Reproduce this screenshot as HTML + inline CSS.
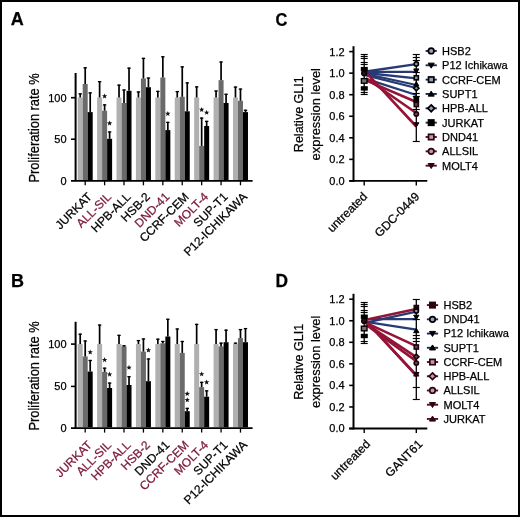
<!DOCTYPE html><html><head><meta charset="utf-8"><style>html,body{margin:0;padding:0;background:#fff;}svg{display:block;will-change:transform;transform:translateZ(0);}text{font-family:"Liberation Sans", sans-serif;stroke:#000;stroke-width:0.25px;}</style></head><body>
<svg width="520" height="517" viewBox="0 0 520 517">
<rect x="0" y="0" width="520" height="517" fill="#fff"/>
<text transform="translate(10.8 25.4) scale(1 1)" font-size="18" font-weight="bold">A</text>
<text transform="translate(10.9 287.4) scale(1 1)" font-size="18" font-weight="bold">B</text>
<text transform="translate(275.4 25.8) scale(0.91 1)" font-size="18" font-weight="bold">C</text>
<text transform="translate(275.4 287.4) scale(0.96 1)" font-size="18" font-weight="bold">D</text>
<rect x="77.7" y="97.5" width="5" height="82.5" fill="#b0b0b0"/>
<line x1="80.2" y1="93.3" x2="80.2" y2="97.5" stroke="#000" stroke-width="1.7"/>
<line x1="78.5" y1="93.9" x2="81.9" y2="93.9" stroke="#000" stroke-width="1.3"/>
<rect x="82.7" y="84" width="5" height="96" fill="#6a6a6a"/>
<line x1="85.2" y1="67.2" x2="85.2" y2="84" stroke="#000" stroke-width="1.7"/>
<line x1="83.5" y1="67.8" x2="86.9" y2="67.8" stroke="#000" stroke-width="1.3"/>
<rect x="87.7" y="112.1" width="5" height="67.9" fill="#000"/>
<line x1="90.2" y1="92.3" x2="90.2" y2="112.1" stroke="#000" stroke-width="1.7"/>
<line x1="88.5" y1="92.9" x2="91.9" y2="92.9" stroke="#000" stroke-width="1.3"/>
<rect x="97.11" y="97.5" width="5" height="82.5" fill="#b0b0b0"/>
<line x1="99.61" y1="81.1" x2="99.61" y2="97.5" stroke="#000" stroke-width="1.7"/>
<line x1="97.91" y1="81.7" x2="101.31" y2="81.7" stroke="#000" stroke-width="1.3"/>
<rect x="102.11" y="110.7" width="5" height="69.3" fill="#6a6a6a"/>
<line x1="104.61" y1="104.3" x2="104.61" y2="110.7" stroke="#000" stroke-width="1.7"/>
<line x1="102.91" y1="104.9" x2="106.31" y2="104.9" stroke="#000" stroke-width="1.3"/>
<rect x="107.11" y="138.8" width="5" height="41.2" fill="#000"/>
<line x1="109.61" y1="131.4" x2="109.61" y2="138.8" stroke="#000" stroke-width="1.7"/>
<line x1="107.91" y1="132" x2="111.31" y2="132" stroke="#000" stroke-width="1.3"/>
<rect x="116.52" y="97.5" width="5" height="82.5" fill="#b0b0b0"/>
<line x1="119.02" y1="84.6" x2="119.02" y2="97.5" stroke="#000" stroke-width="1.7"/>
<line x1="117.32" y1="85.2" x2="120.72" y2="85.2" stroke="#000" stroke-width="1.3"/>
<rect x="121.52" y="103" width="5" height="77" fill="#6a6a6a"/>
<line x1="124.02" y1="89.4" x2="124.02" y2="103" stroke="#000" stroke-width="1.7"/>
<line x1="122.32" y1="90" x2="125.72" y2="90" stroke="#000" stroke-width="1.3"/>
<rect x="126.52" y="90.8" width="5" height="89.2" fill="#000"/>
<line x1="129.02" y1="67.6" x2="129.02" y2="90.8" stroke="#000" stroke-width="1.7"/>
<line x1="127.32" y1="68.2" x2="130.72" y2="68.2" stroke="#000" stroke-width="1.3"/>
<rect x="135.93" y="97.5" width="5" height="82.5" fill="#b0b0b0"/>
<line x1="138.43" y1="91.4" x2="138.43" y2="97.5" stroke="#000" stroke-width="1.7"/>
<line x1="136.73" y1="92" x2="140.13" y2="92" stroke="#000" stroke-width="1.3"/>
<rect x="140.93" y="78.5" width="5" height="101.5" fill="#6a6a6a"/>
<line x1="143.43" y1="57.8" x2="143.43" y2="78.5" stroke="#000" stroke-width="1.7"/>
<line x1="141.73" y1="58.4" x2="145.13" y2="58.4" stroke="#000" stroke-width="1.3"/>
<rect x="145.93" y="87.2" width="5" height="92.8" fill="#000"/>
<line x1="148.43" y1="77.5" x2="148.43" y2="87.2" stroke="#000" stroke-width="1.7"/>
<line x1="146.73" y1="78.1" x2="150.13" y2="78.1" stroke="#000" stroke-width="1.3"/>
<rect x="155.34" y="97.5" width="5" height="82.5" fill="#b0b0b0"/>
<line x1="157.84" y1="90.8" x2="157.84" y2="97.5" stroke="#000" stroke-width="1.7"/>
<line x1="156.14" y1="91.4" x2="159.54" y2="91.4" stroke="#000" stroke-width="1.3"/>
<rect x="160.34" y="77.5" width="5" height="102.5" fill="#6a6a6a"/>
<line x1="162.84" y1="56.2" x2="162.84" y2="77.5" stroke="#000" stroke-width="1.7"/>
<line x1="161.14" y1="56.8" x2="164.54" y2="56.8" stroke="#000" stroke-width="1.3"/>
<rect x="165.34" y="130.1" width="5" height="49.9" fill="#000"/>
<line x1="167.84" y1="121.8" x2="167.84" y2="130.1" stroke="#000" stroke-width="1.7"/>
<line x1="166.14" y1="122.4" x2="169.54" y2="122.4" stroke="#000" stroke-width="1.3"/>
<rect x="174.75" y="97.5" width="5" height="82.5" fill="#b0b0b0"/>
<line x1="177.25" y1="91" x2="177.25" y2="97.5" stroke="#000" stroke-width="1.7"/>
<line x1="175.55" y1="91.6" x2="178.95" y2="91.6" stroke="#000" stroke-width="1.3"/>
<rect x="179.75" y="96.8" width="5" height="83.2" fill="#6a6a6a"/>
<line x1="182.25" y1="66.3" x2="182.25" y2="96.8" stroke="#000" stroke-width="1.7"/>
<line x1="180.55" y1="66.9" x2="183.95" y2="66.9" stroke="#000" stroke-width="1.3"/>
<rect x="184.75" y="111.3" width="5" height="68.7" fill="#000"/>
<line x1="187.25" y1="82.3" x2="187.25" y2="111.3" stroke="#000" stroke-width="1.7"/>
<line x1="185.55" y1="82.9" x2="188.95" y2="82.9" stroke="#000" stroke-width="1.3"/>
<rect x="194.16" y="97.5" width="5" height="82.5" fill="#b0b0b0"/>
<line x1="196.66" y1="86.3" x2="196.66" y2="97.5" stroke="#000" stroke-width="1.7"/>
<line x1="194.96" y1="86.9" x2="198.36" y2="86.9" stroke="#000" stroke-width="1.3"/>
<rect x="199.16" y="145.9" width="5" height="34.1" fill="#6a6a6a"/>
<line x1="201.66" y1="117.5" x2="201.66" y2="145.9" stroke="#000" stroke-width="1.7"/>
<line x1="199.96" y1="118.1" x2="203.36" y2="118.1" stroke="#000" stroke-width="1.3"/>
<rect x="204.16" y="126" width="5" height="54" fill="#000"/>
<line x1="206.66" y1="120.8" x2="206.66" y2="126" stroke="#000" stroke-width="1.7"/>
<line x1="204.96" y1="121.4" x2="208.36" y2="121.4" stroke="#000" stroke-width="1.3"/>
<rect x="213.57" y="97.5" width="5" height="82.5" fill="#b0b0b0"/>
<line x1="216.07" y1="90.4" x2="216.07" y2="97.5" stroke="#000" stroke-width="1.7"/>
<line x1="214.37" y1="91" x2="217.77" y2="91" stroke="#000" stroke-width="1.3"/>
<rect x="218.57" y="80.1" width="5" height="99.9" fill="#6a6a6a"/>
<line x1="221.07" y1="61.4" x2="221.07" y2="80.1" stroke="#000" stroke-width="1.7"/>
<line x1="219.37" y1="62" x2="222.77" y2="62" stroke="#000" stroke-width="1.3"/>
<rect x="223.57" y="103" width="5" height="77" fill="#000"/>
<line x1="226.07" y1="93.7" x2="226.07" y2="103" stroke="#000" stroke-width="1.7"/>
<line x1="224.37" y1="94.3" x2="227.77" y2="94.3" stroke="#000" stroke-width="1.3"/>
<rect x="232.98" y="97.5" width="5" height="82.5" fill="#b0b0b0"/>
<line x1="235.48" y1="86.5" x2="235.48" y2="97.5" stroke="#000" stroke-width="1.7"/>
<line x1="233.78" y1="87.1" x2="237.18" y2="87.1" stroke="#000" stroke-width="1.3"/>
<rect x="237.98" y="100.8" width="5" height="79.2" fill="#6a6a6a"/>
<line x1="240.48" y1="88.5" x2="240.48" y2="100.8" stroke="#000" stroke-width="1.7"/>
<line x1="238.78" y1="89.1" x2="242.18" y2="89.1" stroke="#000" stroke-width="1.3"/>
<rect x="242.98" y="112.1" width="5" height="67.9" fill="#000"/>
<line x1="245.48" y1="109.7" x2="245.48" y2="112.1" stroke="#000" stroke-width="1.7"/>
<line x1="243.78" y1="110.3" x2="247.18" y2="110.3" stroke="#000" stroke-width="1.3"/>
<polygon points="104.61,93.4 105.32,95.23 107.27,95.33 105.75,96.57 106.26,98.47 104.61,97.4 102.96,98.47 103.47,96.57 101.95,95.33 103.9,95.23" fill="#111"/>
<polygon points="109.61,120.5 110.32,122.33 112.27,122.43 110.75,123.67 111.26,125.57 109.61,124.5 107.96,125.57 108.47,123.67 106.95,122.43 108.9,122.33" fill="#111"/>
<polygon points="167.84,110.9 168.55,112.73 170.5,112.83 168.98,114.07 169.49,115.97 167.84,114.9 166.19,115.97 166.7,114.07 165.18,112.83 167.13,112.73" fill="#111"/>
<polygon points="201.66,106.9 202.37,108.73 204.32,108.83 202.8,110.07 203.31,111.97 201.66,110.9 200.01,111.97 200.52,110.07 199,108.83 200.95,108.73" fill="#111"/>
<polygon points="206.66,109.8 207.37,111.63 209.32,111.73 207.8,112.97 208.31,114.87 206.66,113.8 205.01,114.87 205.52,112.97 204,111.73 205.95,111.63" fill="#111"/>
<line x1="75.6" y1="73" x2="75.6" y2="180.8" stroke="#000" stroke-width="2.0"/>
<line x1="71" y1="180.8" x2="252.6" y2="180.8" stroke="#000" stroke-width="1.8"/>
<line x1="71" y1="97.7" x2="75.5" y2="97.7" stroke="#000" stroke-width="1.6"/>
<line x1="71" y1="139.2" x2="75.5" y2="139.2" stroke="#000" stroke-width="1.6"/>
<line x1="85.2" y1="181" x2="85.2" y2="185.3" stroke="#000" stroke-width="1.3"/>
<line x1="104.61" y1="181" x2="104.61" y2="185.3" stroke="#000" stroke-width="1.3"/>
<line x1="124.02" y1="181" x2="124.02" y2="185.3" stroke="#000" stroke-width="1.3"/>
<line x1="143.43" y1="181" x2="143.43" y2="185.3" stroke="#000" stroke-width="1.3"/>
<line x1="162.84" y1="181" x2="162.84" y2="185.3" stroke="#000" stroke-width="1.3"/>
<line x1="182.25" y1="181" x2="182.25" y2="185.3" stroke="#000" stroke-width="1.3"/>
<line x1="201.66" y1="181" x2="201.66" y2="185.3" stroke="#000" stroke-width="1.3"/>
<line x1="221.07" y1="181" x2="221.07" y2="185.3" stroke="#000" stroke-width="1.3"/>
<line x1="240.48" y1="181" x2="240.48" y2="185.3" stroke="#000" stroke-width="1.3"/>
<text x="66.6" y="101.6" font-size="11" text-anchor="end">100</text>
<text x="66.6" y="143.1" font-size="11" text-anchor="end">50</text>
<text x="66.6" y="184.7" font-size="11" text-anchor="end">0</text>
<text transform="translate(92.6 197.6) rotate(-45)" font-size="12" text-anchor="end" style="fill:#000;stroke:#000">JURKAT</text>
<text transform="translate(112.01 197.6) rotate(-45)" font-size="12" text-anchor="end" style="fill:#7a1836;stroke:#7a1836">ALL-SIL</text>
<text transform="translate(131.42 197.6) rotate(-45)" font-size="12" text-anchor="end" style="fill:#000;stroke:#000">HPB-ALL</text>
<text transform="translate(150.83 197.6) rotate(-45)" font-size="12" text-anchor="end" style="fill:#000;stroke:#000">HSB-2</text>
<text transform="translate(170.24 197.6) rotate(-45)" font-size="12" text-anchor="end" style="fill:#7a1836;stroke:#7a1836">DND-41</text>
<text transform="translate(189.65 197.6) rotate(-45)" font-size="12" text-anchor="end" style="fill:#000;stroke:#000">CCRF-CEM</text>
<text transform="translate(209.06 197.6) rotate(-45)" font-size="12" text-anchor="end" style="fill:#7a1836;stroke:#7a1836">MOLT-4</text>
<text transform="translate(228.47 197.6) rotate(-45)" font-size="12" text-anchor="end" style="fill:#000;stroke:#000">SUP-T1</text>
<text transform="translate(247.88 197.6) rotate(-45)" font-size="12" text-anchor="end" style="fill:#000;stroke:#000">P12-ICHIKAWA</text>
<text transform="translate(39.2 127.9) rotate(-90) scale(0.918 1)" font-size="14" text-anchor="middle">Proliferation rate %</text>
<rect x="77.7" y="344" width="5" height="83.3" fill="#b0b0b0"/>
<line x1="80.2" y1="333.6" x2="80.2" y2="344" stroke="#000" stroke-width="1.7"/>
<line x1="78.5" y1="334.2" x2="81.9" y2="334.2" stroke="#000" stroke-width="1.3"/>
<rect x="82.7" y="356.4" width="5" height="70.9" fill="#6a6a6a"/>
<line x1="85.2" y1="340.4" x2="85.2" y2="356.4" stroke="#000" stroke-width="1.7"/>
<line x1="83.5" y1="341" x2="86.9" y2="341" stroke="#000" stroke-width="1.3"/>
<rect x="87.7" y="371.5" width="5" height="55.8" fill="#000"/>
<line x1="90.2" y1="359.9" x2="90.2" y2="371.5" stroke="#000" stroke-width="1.7"/>
<line x1="88.5" y1="360.5" x2="91.9" y2="360.5" stroke="#000" stroke-width="1.3"/>
<rect x="97.11" y="344" width="5" height="83.3" fill="#b0b0b0"/>
<line x1="99.61" y1="324.5" x2="99.61" y2="344" stroke="#000" stroke-width="1.7"/>
<line x1="97.91" y1="325.1" x2="101.31" y2="325.1" stroke="#000" stroke-width="1.3"/>
<rect x="102.11" y="371.9" width="5" height="55.4" fill="#6a6a6a"/>
<line x1="104.61" y1="367.6" x2="104.61" y2="371.9" stroke="#000" stroke-width="1.7"/>
<line x1="102.91" y1="368.2" x2="106.31" y2="368.2" stroke="#000" stroke-width="1.3"/>
<rect x="107.11" y="388" width="5" height="39.3" fill="#000"/>
<line x1="109.61" y1="382.5" x2="109.61" y2="388" stroke="#000" stroke-width="1.7"/>
<line x1="107.91" y1="383.1" x2="111.31" y2="383.1" stroke="#000" stroke-width="1.3"/>
<rect x="116.52" y="344" width="5" height="83.3" fill="#b0b0b0"/>
<line x1="119.02" y1="334.8" x2="119.02" y2="344" stroke="#000" stroke-width="1.7"/>
<line x1="117.32" y1="335.4" x2="120.72" y2="335.4" stroke="#000" stroke-width="1.3"/>
<rect x="121.52" y="346.4" width="5" height="80.9" fill="#6a6a6a"/>
<line x1="124.02" y1="345.2" x2="124.02" y2="346.4" stroke="#000" stroke-width="1.7"/>
<line x1="122.32" y1="345.8" x2="125.72" y2="345.8" stroke="#000" stroke-width="1.3"/>
<rect x="126.52" y="385" width="5" height="42.3" fill="#000"/>
<line x1="129.02" y1="376.1" x2="129.02" y2="385" stroke="#000" stroke-width="1.7"/>
<line x1="127.32" y1="376.7" x2="130.72" y2="376.7" stroke="#000" stroke-width="1.3"/>
<rect x="135.93" y="344" width="5" height="83.3" fill="#b0b0b0"/>
<line x1="138.43" y1="340" x2="138.43" y2="344" stroke="#000" stroke-width="1.7"/>
<line x1="136.73" y1="340.6" x2="140.13" y2="340.6" stroke="#000" stroke-width="1.3"/>
<rect x="140.93" y="351.6" width="5" height="75.7" fill="#6a6a6a"/>
<line x1="143.43" y1="338.4" x2="143.43" y2="351.6" stroke="#000" stroke-width="1.7"/>
<line x1="141.73" y1="339" x2="145.13" y2="339" stroke="#000" stroke-width="1.3"/>
<rect x="145.93" y="381.2" width="5" height="46.1" fill="#000"/>
<line x1="148.43" y1="358.4" x2="148.43" y2="381.2" stroke="#000" stroke-width="1.7"/>
<line x1="146.73" y1="359" x2="150.13" y2="359" stroke="#000" stroke-width="1.3"/>
<rect x="155.34" y="344" width="5" height="83.3" fill="#b0b0b0"/>
<line x1="157.84" y1="338.6" x2="157.84" y2="344" stroke="#000" stroke-width="1.7"/>
<line x1="156.14" y1="339.2" x2="159.54" y2="339.2" stroke="#000" stroke-width="1.3"/>
<rect x="160.34" y="343.3" width="5" height="84" fill="#6a6a6a"/>
<line x1="162.84" y1="340.9" x2="162.84" y2="343.3" stroke="#000" stroke-width="1.7"/>
<line x1="161.14" y1="341.5" x2="164.54" y2="341.5" stroke="#000" stroke-width="1.3"/>
<rect x="165.34" y="336.5" width="5" height="90.8" fill="#000"/>
<line x1="167.84" y1="318.7" x2="167.84" y2="336.5" stroke="#000" stroke-width="1.7"/>
<line x1="166.14" y1="319.3" x2="169.54" y2="319.3" stroke="#000" stroke-width="1.3"/>
<rect x="174.75" y="344" width="5" height="83.3" fill="#b0b0b0"/>
<line x1="177.25" y1="328.4" x2="177.25" y2="344" stroke="#000" stroke-width="1.7"/>
<line x1="175.55" y1="329" x2="178.95" y2="329" stroke="#000" stroke-width="1.3"/>
<rect x="179.75" y="352.9" width="5" height="74.4" fill="#6a6a6a"/>
<line x1="182.25" y1="340.9" x2="182.25" y2="352.9" stroke="#000" stroke-width="1.7"/>
<line x1="180.55" y1="341.5" x2="183.95" y2="341.5" stroke="#000" stroke-width="1.3"/>
<rect x="184.75" y="411.2" width="5" height="16.1" fill="#000"/>
<line x1="187.25" y1="407.8" x2="187.25" y2="411.2" stroke="#000" stroke-width="1.7"/>
<line x1="185.55" y1="408.4" x2="188.95" y2="408.4" stroke="#000" stroke-width="1.3"/>
<rect x="194.16" y="344" width="5" height="83.3" fill="#b0b0b0"/>
<line x1="196.66" y1="323.8" x2="196.66" y2="344" stroke="#000" stroke-width="1.7"/>
<line x1="194.96" y1="324.4" x2="198.36" y2="324.4" stroke="#000" stroke-width="1.3"/>
<rect x="199.16" y="387.1" width="5" height="40.2" fill="#6a6a6a"/>
<line x1="201.66" y1="381.8" x2="201.66" y2="387.1" stroke="#000" stroke-width="1.7"/>
<line x1="199.96" y1="382.4" x2="203.36" y2="382.4" stroke="#000" stroke-width="1.3"/>
<rect x="204.16" y="396.7" width="5" height="30.6" fill="#000"/>
<line x1="206.66" y1="390.3" x2="206.66" y2="396.7" stroke="#000" stroke-width="1.7"/>
<line x1="204.96" y1="390.9" x2="208.36" y2="390.9" stroke="#000" stroke-width="1.3"/>
<rect x="213.57" y="344" width="5" height="83.3" fill="#b0b0b0"/>
<line x1="216.07" y1="329" x2="216.07" y2="344" stroke="#000" stroke-width="1.7"/>
<line x1="214.37" y1="329.6" x2="217.77" y2="329.6" stroke="#000" stroke-width="1.3"/>
<rect x="218.57" y="346.4" width="5" height="80.9" fill="#6a6a6a"/>
<line x1="221.07" y1="342.6" x2="221.07" y2="346.4" stroke="#000" stroke-width="1.7"/>
<line x1="219.37" y1="343.2" x2="222.77" y2="343.2" stroke="#000" stroke-width="1.3"/>
<rect x="223.57" y="342.2" width="5" height="85.1" fill="#000"/>
<line x1="226.07" y1="329.6" x2="226.07" y2="342.2" stroke="#000" stroke-width="1.7"/>
<line x1="224.37" y1="330.2" x2="227.77" y2="330.2" stroke="#000" stroke-width="1.3"/>
<rect x="232.98" y="344" width="5" height="83.3" fill="#b0b0b0"/>
<line x1="235.48" y1="342.6" x2="235.48" y2="344" stroke="#000" stroke-width="1.7"/>
<line x1="233.78" y1="343.2" x2="237.18" y2="343.2" stroke="#000" stroke-width="1.3"/>
<rect x="237.98" y="338.1" width="5" height="89.2" fill="#6a6a6a"/>
<line x1="240.48" y1="329" x2="240.48" y2="338.1" stroke="#000" stroke-width="1.7"/>
<line x1="238.78" y1="329.6" x2="242.18" y2="329.6" stroke="#000" stroke-width="1.3"/>
<rect x="242.98" y="342.2" width="5" height="85.1" fill="#000"/>
<line x1="245.48" y1="328" x2="245.48" y2="342.2" stroke="#000" stroke-width="1.7"/>
<line x1="243.78" y1="328.6" x2="247.18" y2="328.6" stroke="#000" stroke-width="1.3"/>
<polygon points="90.2,349.4 90.91,351.23 92.86,351.33 91.34,352.57 91.85,354.47 90.2,353.4 88.55,354.47 89.06,352.57 87.54,351.33 89.49,351.23" fill="#111"/>
<polygon points="104.61,357.1 105.32,358.93 107.27,359.03 105.75,360.27 106.26,362.17 104.61,361.1 102.96,362.17 103.47,360.27 101.95,359.03 103.9,358.93" fill="#111"/>
<polygon points="109.61,371.6 110.32,373.43 112.27,373.53 110.75,374.77 111.26,376.67 109.61,375.6 107.96,376.67 108.47,374.77 106.95,373.53 108.9,373.43" fill="#111"/>
<polygon points="129.02,364.8 129.73,366.63 131.68,366.73 130.16,367.97 130.67,369.87 129.02,368.8 127.37,369.87 127.88,367.97 126.36,366.73 128.31,366.63" fill="#111"/>
<polygon points="148.43,347.4 149.14,349.23 151.09,349.33 149.57,350.57 150.08,352.47 148.43,351.4 146.78,352.47 147.29,350.57 145.77,349.33 147.72,349.23" fill="#111"/>
<polygon points="187.25,391 187.96,392.83 189.91,392.93 188.39,394.17 188.9,396.07 187.25,395 185.6,396.07 186.11,394.17 184.59,392.93 186.54,392.83" fill="#111"/>
<polygon points="187.25,397.2 187.96,399.03 189.91,399.13 188.39,400.37 188.9,402.27 187.25,401.2 185.6,402.27 186.11,400.37 184.59,399.13 186.54,399.03" fill="#111"/>
<polygon points="201.66,371.3 202.37,373.13 204.32,373.23 202.8,374.47 203.31,376.37 201.66,375.3 200.01,376.37 200.52,374.47 199,373.23 200.95,373.13" fill="#111"/>
<polygon points="206.66,379.4 207.37,381.23 209.32,381.33 207.8,382.57 208.31,384.47 206.66,383.4 205.01,384.47 205.52,382.57 204,381.33 205.95,381.23" fill="#111"/>
<line x1="75.6" y1="321.8" x2="75.6" y2="428.1" stroke="#000" stroke-width="2.0"/>
<line x1="71" y1="428.1" x2="252.6" y2="428.1" stroke="#000" stroke-width="1.8"/>
<line x1="71" y1="344.1" x2="75.5" y2="344.1" stroke="#000" stroke-width="1.6"/>
<line x1="71" y1="386.4" x2="75.5" y2="386.4" stroke="#000" stroke-width="1.6"/>
<line x1="85.2" y1="428.3" x2="85.2" y2="432.6" stroke="#000" stroke-width="1.3"/>
<line x1="104.61" y1="428.3" x2="104.61" y2="432.6" stroke="#000" stroke-width="1.3"/>
<line x1="124.02" y1="428.3" x2="124.02" y2="432.6" stroke="#000" stroke-width="1.3"/>
<line x1="143.43" y1="428.3" x2="143.43" y2="432.6" stroke="#000" stroke-width="1.3"/>
<line x1="162.84" y1="428.3" x2="162.84" y2="432.6" stroke="#000" stroke-width="1.3"/>
<line x1="182.25" y1="428.3" x2="182.25" y2="432.6" stroke="#000" stroke-width="1.3"/>
<line x1="201.66" y1="428.3" x2="201.66" y2="432.6" stroke="#000" stroke-width="1.3"/>
<line x1="221.07" y1="428.3" x2="221.07" y2="432.6" stroke="#000" stroke-width="1.3"/>
<line x1="240.48" y1="428.3" x2="240.48" y2="432.6" stroke="#000" stroke-width="1.3"/>
<text x="66.6" y="348" font-size="11" text-anchor="end">100</text>
<text x="66.6" y="390.3" font-size="11" text-anchor="end">50</text>
<text x="66.6" y="432" font-size="11" text-anchor="end">0</text>
<text transform="translate(92.6 445.7) rotate(-45)" font-size="12" text-anchor="end" style="fill:#7a1836;stroke:#7a1836">JURKAT</text>
<text transform="translate(112.01 445.7) rotate(-45)" font-size="12" text-anchor="end" style="fill:#7a1836;stroke:#7a1836">ALL-SIL</text>
<text transform="translate(131.42 445.7) rotate(-45)" font-size="12" text-anchor="end" style="fill:#7a1836;stroke:#7a1836">HPB-ALL</text>
<text transform="translate(150.83 445.7) rotate(-45)" font-size="12" text-anchor="end" style="fill:#7a1836;stroke:#7a1836">HSB-2</text>
<text transform="translate(170.24 445.7) rotate(-45)" font-size="12" text-anchor="end" style="fill:#000;stroke:#000">DND-41</text>
<text transform="translate(189.65 445.7) rotate(-45)" font-size="12" text-anchor="end" style="fill:#7a1836;stroke:#7a1836">CCRF-CEM</text>
<text transform="translate(209.06 445.7) rotate(-45)" font-size="12" text-anchor="end" style="fill:#7a1836;stroke:#7a1836">MOLT-4</text>
<text transform="translate(228.47 445.7) rotate(-45)" font-size="12" text-anchor="end" style="fill:#000;stroke:#000">SUP-T1</text>
<text transform="translate(247.88 445.7) rotate(-45)" font-size="12" text-anchor="end" style="fill:#000;stroke:#000">P12-ICHIKAWA</text>
<text transform="translate(39.2 375.95) rotate(-90) scale(0.918 1)" font-size="14" text-anchor="middle">Proliferation rate %</text>
<line x1="353.5" y1="46.2" x2="353.5" y2="181.8" stroke="#000" stroke-width="2.0"/>
<line x1="349.2" y1="180.9" x2="427.3" y2="180.9" stroke="#000" stroke-width="1.8"/>
<line x1="349.2" y1="180.9" x2="353.4" y2="180.9" stroke="#000" stroke-width="1.6"/>
<text x="344.6" y="184.8" font-size="11" text-anchor="end">0.0</text>
<line x1="349.2" y1="159.35" x2="353.4" y2="159.35" stroke="#000" stroke-width="1.6"/>
<text x="344.6" y="163.25" font-size="11" text-anchor="end">0.2</text>
<line x1="349.2" y1="137.8" x2="353.4" y2="137.8" stroke="#000" stroke-width="1.6"/>
<text x="344.6" y="141.7" font-size="11" text-anchor="end">0.4</text>
<line x1="349.2" y1="116.25" x2="353.4" y2="116.25" stroke="#000" stroke-width="1.6"/>
<text x="344.6" y="120.15" font-size="11" text-anchor="end">0.6</text>
<line x1="349.2" y1="94.7" x2="353.4" y2="94.7" stroke="#000" stroke-width="1.6"/>
<text x="344.6" y="98.6" font-size="11" text-anchor="end">0.8</text>
<line x1="349.2" y1="73.15" x2="353.4" y2="73.15" stroke="#000" stroke-width="1.6"/>
<text x="344.6" y="77.05" font-size="11" text-anchor="end">1.0</text>
<line x1="349.2" y1="51.6" x2="353.4" y2="51.6" stroke="#000" stroke-width="1.6"/>
<text x="344.6" y="55.5" font-size="11" text-anchor="end">1.2</text>
<line x1="364.2" y1="180.9" x2="364.2" y2="185.5" stroke="#000" stroke-width="1.4"/>
<line x1="416.3" y1="180.9" x2="416.3" y2="185.5" stroke="#000" stroke-width="1.4"/>
<text transform="translate(368 197.2) rotate(-45)" font-size="12" text-anchor="end">untreated</text>
<text transform="translate(420.1 197.2) rotate(-45)" font-size="12" text-anchor="end">GDC-0449</text>
<text transform="translate(303.1 114.2) rotate(-90) scale(0.93 1)" font-size="13.5" text-anchor="middle">Relative GLI1</text>
<text transform="translate(319.9 114.2) rotate(-90) scale(0.955 1)" font-size="13.5" text-anchor="middle">expression level</text>
<line x1="366" y1="71.5" x2="416.3" y2="64.2" stroke="#283a74" stroke-width="2.3"/>
<line x1="366" y1="71.8" x2="416.3" y2="71.8" stroke="#283a74" stroke-width="2.3"/>
<line x1="366" y1="73" x2="416.3" y2="78.4" stroke="#283a74" stroke-width="2.3"/>
<line x1="366" y1="74" x2="416.3" y2="85" stroke="#283a74" stroke-width="2.3"/>
<line x1="366" y1="75.4" x2="416.3" y2="88" stroke="#283a74" stroke-width="2.3"/>
<line x1="366" y1="78.9" x2="416.3" y2="95" stroke="#283a74" stroke-width="2.3"/>
<line x1="366" y1="80.4" x2="416.3" y2="102" stroke="#941437" stroke-width="2.6"/>
<line x1="366" y1="78.3" x2="416.3" y2="113" stroke="#941437" stroke-width="2.6"/>
<line x1="366" y1="72.3" x2="416.3" y2="126.5" stroke="#941437" stroke-width="2.6"/>
<line x1="364.2" y1="54.3" x2="364.2" y2="94.8" stroke="#000" stroke-width="1.3"/>
<line x1="360.7" y1="54.5" x2="367.7" y2="54.5" stroke="#000" stroke-width="1.15"/>
<line x1="360.7" y1="56.5" x2="367.7" y2="56.5" stroke="#000" stroke-width="1.15"/>
<line x1="360.7" y1="58.5" x2="367.7" y2="58.5" stroke="#000" stroke-width="1.15"/>
<line x1="360.7" y1="62.5" x2="367.7" y2="62.5" stroke="#000" stroke-width="1.15"/>
<line x1="360.7" y1="64.5" x2="367.7" y2="64.5" stroke="#000" stroke-width="1.15"/>
<line x1="360.7" y1="92.5" x2="367.7" y2="92.5" stroke="#000" stroke-width="1.15"/>
<line x1="360.7" y1="94.5" x2="367.7" y2="94.5" stroke="#000" stroke-width="1.15"/>
<line x1="416.3" y1="54.3" x2="416.3" y2="141.3" stroke="#000" stroke-width="1.3"/>
<line x1="412.8" y1="54.5" x2="419.8" y2="54.5" stroke="#000" stroke-width="1.15"/>
<line x1="412.8" y1="57.5" x2="419.8" y2="57.5" stroke="#000" stroke-width="1.15"/>
<line x1="412.8" y1="60.5" x2="419.8" y2="60.5" stroke="#000" stroke-width="1.15"/>
<line x1="412.8" y1="72.5" x2="419.8" y2="72.5" stroke="#000" stroke-width="1.15"/>
<line x1="412.8" y1="93.5" x2="419.8" y2="93.5" stroke="#000" stroke-width="1.15"/>
<line x1="412.8" y1="96.5" x2="419.8" y2="96.5" stroke="#000" stroke-width="1.15"/>
<line x1="412.8" y1="109.5" x2="419.8" y2="109.5" stroke="#000" stroke-width="1.15"/>
<line x1="412.8" y1="141.5" x2="419.8" y2="141.5" stroke="#000" stroke-width="1.15"/>
<rect x="360.8" y="66.9" width="7" height="4.4" fill="#000"/>
<circle cx="364.2" cy="73.3" r="2.5" fill="#3a0614" stroke="#000" stroke-width="1.3"/>
<rect x="361.4" y="78.6" width="5.6" height="4.6" fill="#70707a" stroke="#000" stroke-width="1.4"/>
<rect x="360.8" y="86.2" width="7" height="4.4" fill="#000"/>
<circle cx="416.3" cy="64" r="2.15" fill="#8a90a8" stroke="#000" stroke-width="1.6"/>
<polygon points="416.3,73.3 418.93,68.92 413.68,68.92" fill="#000" stroke="#000" stroke-width="1"/>
<rect x="414.25" y="75.75" width="4.1" height="4.1" fill="#8a90a8" stroke="#000" stroke-width="1.6"/>
<polygon points="416.3,81.7 418.93,86.08 413.68,86.08" fill="#000" stroke="#000" stroke-width="1"/>
<polygon points="416.3,85.6 418.9,88.2 416.3,90.8 413.7,88.2" fill="#8a90a8" stroke="#000" stroke-width="1.6"/>
<rect x="414.25" y="97.55" width="4.1" height="4.1" fill="#000" stroke="#000" stroke-width="1.6"/>
<rect x="414.25" y="102.45" width="4.1" height="4.1" fill="#7a3a4a" stroke="#1c0410" stroke-width="1.6"/>
<circle cx="416.3" cy="114" r="2.15" fill="#7a3a4a" stroke="#1c0410" stroke-width="1.6"/>
<polygon points="416.3,127.1 418.93,122.72 413.68,122.72" fill="#1c0410" stroke="#1c0410" stroke-width="1"/>
<line x1="425.6" y1="50.95" x2="436.8" y2="50.95" stroke="#1c2a52" stroke-width="1.9"/>
<circle cx="431.2" cy="50.95" r="2.79" fill="#9aa0b8" stroke="#000" stroke-width="1.7"/>
<text x="442.1" y="54.85" font-size="11">HSB2</text>
<line x1="425.6" y1="65.29" x2="436.8" y2="65.29" stroke="#1c2a52" stroke-width="1.9"/>
<polygon points="431.2,68.17 434.22,63.13 428.18,63.13" fill="#000" stroke="#000" stroke-width="1"/>
<text x="442.1" y="69.19" font-size="11">P12 Ichikawa</text>
<line x1="425.6" y1="79.63" x2="436.8" y2="79.63" stroke="#1c2a52" stroke-width="1.9"/>
<rect x="428.53" y="76.96" width="5.33" height="5.33" fill="#9aa0b8" stroke="#000" stroke-width="1.7"/>
<text x="442.1" y="83.53" font-size="11">CCRF-CEM</text>
<line x1="425.6" y1="93.97" x2="436.8" y2="93.97" stroke="#1c2a52" stroke-width="1.9"/>
<polygon points="431.2,91.09 434.22,96.13 428.18,96.13" fill="#000" stroke="#000" stroke-width="1"/>
<text x="442.1" y="97.87" font-size="11">SUPT1</text>
<line x1="425.6" y1="108.31" x2="436.8" y2="108.31" stroke="#1c2a52" stroke-width="1.9"/>
<polygon points="431.2,104.93 434.58,108.31 431.2,111.69 427.82,108.31" fill="#9aa0b8" stroke="#000" stroke-width="1.7"/>
<text x="442.1" y="112.21" font-size="11">HPB-ALL</text>
<line x1="425.6" y1="122.65" x2="436.8" y2="122.65" stroke="#1c2a52" stroke-width="1.9"/>
<rect x="428.53" y="119.98" width="5.33" height="5.33" fill="#000" stroke="#000" stroke-width="1.7"/>
<text x="442.1" y="126.55" font-size="11">JURKAT</text>
<line x1="425.6" y1="136.99" x2="436.8" y2="136.99" stroke="#5a0c26" stroke-width="1.9"/>
<rect x="428.53" y="134.33" width="5.33" height="5.33" fill="#c898a8" stroke="#2a0614" stroke-width="1.7"/>
<text x="442.1" y="140.89" font-size="11">DND41</text>
<line x1="425.6" y1="151.33" x2="436.8" y2="151.33" stroke="#5a0c26" stroke-width="1.9"/>
<circle cx="431.2" cy="151.33" r="2.79" fill="#c898a8" stroke="#2a0614" stroke-width="1.7"/>
<text x="442.1" y="155.23" font-size="11">ALLSIL</text>
<line x1="425.6" y1="165.67" x2="436.8" y2="165.67" stroke="#5a0c26" stroke-width="1.9"/>
<polygon points="431.2,168.55 434.22,163.51 428.18,163.51" fill="#2a0614" stroke="#2a0614" stroke-width="1"/>
<text x="442.1" y="169.57" font-size="11">MOLT4</text>
<line x1="353.5" y1="293.8" x2="353.5" y2="429.4" stroke="#000" stroke-width="2.0"/>
<line x1="349.2" y1="428.5" x2="427.3" y2="428.5" stroke="#000" stroke-width="1.8"/>
<line x1="349.2" y1="428.5" x2="353.4" y2="428.5" stroke="#000" stroke-width="1.6"/>
<text x="344.6" y="432.4" font-size="11" text-anchor="end">0.0</text>
<line x1="349.2" y1="406.95" x2="353.4" y2="406.95" stroke="#000" stroke-width="1.6"/>
<text x="344.6" y="410.85" font-size="11" text-anchor="end">0.2</text>
<line x1="349.2" y1="385.4" x2="353.4" y2="385.4" stroke="#000" stroke-width="1.6"/>
<text x="344.6" y="389.3" font-size="11" text-anchor="end">0.4</text>
<line x1="349.2" y1="363.85" x2="353.4" y2="363.85" stroke="#000" stroke-width="1.6"/>
<text x="344.6" y="367.75" font-size="11" text-anchor="end">0.6</text>
<line x1="349.2" y1="342.3" x2="353.4" y2="342.3" stroke="#000" stroke-width="1.6"/>
<text x="344.6" y="346.2" font-size="11" text-anchor="end">0.8</text>
<line x1="349.2" y1="320.75" x2="353.4" y2="320.75" stroke="#000" stroke-width="1.6"/>
<text x="344.6" y="324.65" font-size="11" text-anchor="end">1.0</text>
<line x1="349.2" y1="299.2" x2="353.4" y2="299.2" stroke="#000" stroke-width="1.6"/>
<text x="344.6" y="303.1" font-size="11" text-anchor="end">1.2</text>
<line x1="364.2" y1="428.5" x2="364.2" y2="433.1" stroke="#000" stroke-width="1.4"/>
<line x1="416.3" y1="428.5" x2="416.3" y2="433.1" stroke="#000" stroke-width="1.4"/>
<text transform="translate(371 444.8) rotate(-45)" font-size="12" text-anchor="end">untreated</text>
<text transform="translate(423.1 444.8) rotate(-45)" font-size="12" text-anchor="end">GANT61</text>
<text transform="translate(303.1 361.8) rotate(-90) scale(0.93 1)" font-size="13.5" text-anchor="middle">Relative GLI1</text>
<text transform="translate(319.9 361.8) rotate(-90) scale(0.955 1)" font-size="13.5" text-anchor="middle">expression level</text>
<line x1="366" y1="322.6" x2="416.3" y2="311.6" stroke="#283a74" stroke-width="2.3"/>
<line x1="366" y1="319.1" x2="416.3" y2="319.1" stroke="#283a74" stroke-width="2.3"/>
<line x1="366" y1="321.9" x2="416.3" y2="329.7" stroke="#283a74" stroke-width="2.3"/>
<line x1="366" y1="319.7" x2="416.3" y2="309.1" stroke="#941437" stroke-width="2.6"/>
<line x1="366" y1="322.9" x2="416.3" y2="346.1" stroke="#941437" stroke-width="2.6"/>
<line x1="366" y1="323.9" x2="416.3" y2="357.1" stroke="#941437" stroke-width="2.6"/>
<line x1="366" y1="324.7" x2="416.3" y2="361.1" stroke="#941437" stroke-width="2.6"/>
<line x1="366" y1="321.1" x2="416.3" y2="375.6" stroke="#941437" stroke-width="2.6"/>
<line x1="366" y1="321.1" x2="416.3" y2="375.1" stroke="#941437" stroke-width="2.6"/>
<line x1="364.2" y1="302.5" x2="364.2" y2="343.1" stroke="#000" stroke-width="1.3"/>
<line x1="360.7" y1="302.5" x2="367.7" y2="302.5" stroke="#000" stroke-width="1.15"/>
<line x1="360.7" y1="304.5" x2="367.7" y2="304.5" stroke="#000" stroke-width="1.15"/>
<line x1="360.7" y1="306.5" x2="367.7" y2="306.5" stroke="#000" stroke-width="1.15"/>
<line x1="360.7" y1="310.5" x2="367.7" y2="310.5" stroke="#000" stroke-width="1.15"/>
<line x1="360.7" y1="312.5" x2="367.7" y2="312.5" stroke="#000" stroke-width="1.15"/>
<line x1="360.7" y1="341.5" x2="367.7" y2="341.5" stroke="#000" stroke-width="1.15"/>
<line x1="360.7" y1="343.5" x2="367.7" y2="343.5" stroke="#000" stroke-width="1.15"/>
<line x1="416.3" y1="299.7" x2="416.3" y2="399.6" stroke="#000" stroke-width="1.3"/>
<line x1="412.8" y1="299.5" x2="419.8" y2="299.5" stroke="#000" stroke-width="1.15"/>
<line x1="412.8" y1="319.5" x2="419.8" y2="319.5" stroke="#000" stroke-width="1.15"/>
<line x1="412.8" y1="335.5" x2="419.8" y2="335.5" stroke="#000" stroke-width="1.15"/>
<line x1="412.8" y1="338.5" x2="419.8" y2="338.5" stroke="#000" stroke-width="1.15"/>
<line x1="412.8" y1="341.5" x2="419.8" y2="341.5" stroke="#000" stroke-width="1.15"/>
<line x1="412.8" y1="387.5" x2="419.8" y2="387.5" stroke="#000" stroke-width="1.15"/>
<line x1="412.8" y1="399.5" x2="419.8" y2="399.5" stroke="#000" stroke-width="1.15"/>
<rect x="360.8" y="314.5" width="7" height="4.4" fill="#000"/>
<circle cx="364.2" cy="320.9" r="2.5" fill="#3a0614" stroke="#000" stroke-width="1.3"/>
<rect x="361.4" y="326.2" width="5.6" height="4.6" fill="#70707a" stroke="#000" stroke-width="1.4"/>
<rect x="360.8" y="333.8" width="7" height="4.4" fill="#000"/>
<rect x="414.25" y="305.55" width="4.1" height="4.1" fill="#2a0510" stroke="#1c0410" stroke-width="1.6"/>
<circle cx="416.3" cy="311" r="2.15" fill="#8a90a8" stroke="#000" stroke-width="1.6"/>
<polygon points="416.3,319.6 418.93,315.23 413.68,315.23" fill="#000" stroke="#000" stroke-width="1"/>
<polygon points="416.3,328.3 418.93,332.68 413.68,332.68" fill="#000" stroke="#000" stroke-width="1"/>
<rect x="414.25" y="344.95" width="4.1" height="4.1" fill="#7a3a4a" stroke="#1c0410" stroke-width="1.6"/>
<polygon points="416.3,354.1 418.9,356.7 416.3,359.3 413.7,356.7" fill="#7a3a4a" stroke="#1c0410" stroke-width="1.6"/>
<circle cx="416.3" cy="363.1" r="2.15" fill="#7a3a4a" stroke="#1c0410" stroke-width="1.6"/>
<polygon points="416.3,376.9 418.93,372.52 413.68,372.52" fill="#1c0410" stroke="#1c0410" stroke-width="1"/>
<polygon points="416.3,371.7 418.93,376.07 413.68,376.07" fill="#1c0410" stroke="#1c0410" stroke-width="1"/>
<line x1="426.9" y1="305.1" x2="438.1" y2="305.1" stroke="#5a0c26" stroke-width="1.9"/>
<rect x="429.83" y="302.44" width="5.33" height="5.33" fill="#2a0510" stroke="#2a0614" stroke-width="1.7"/>
<text x="443.5" y="309" font-size="11">HSB2</text>
<line x1="426.9" y1="319.33" x2="438.1" y2="319.33" stroke="#1c2a52" stroke-width="1.9"/>
<circle cx="432.5" cy="319.33" r="2.79" fill="#9aa0b8" stroke="#000" stroke-width="1.7"/>
<text x="443.5" y="323.23" font-size="11">DND41</text>
<line x1="426.9" y1="333.56" x2="438.1" y2="333.56" stroke="#1c2a52" stroke-width="1.9"/>
<polygon points="432.5,336.44 435.52,331.4 429.48,331.4" fill="#000" stroke="#000" stroke-width="1"/>
<text x="443.5" y="337.46" font-size="11">P12 Ichikawa</text>
<line x1="426.9" y1="347.79" x2="438.1" y2="347.79" stroke="#1c2a52" stroke-width="1.9"/>
<polygon points="432.5,344.92 435.52,349.95 429.48,349.95" fill="#000" stroke="#000" stroke-width="1"/>
<text x="443.5" y="351.69" font-size="11">SUPT1</text>
<line x1="426.9" y1="362.02" x2="438.1" y2="362.02" stroke="#5a0c26" stroke-width="1.9"/>
<rect x="429.83" y="359.36" width="5.33" height="5.33" fill="#c898a8" stroke="#2a0614" stroke-width="1.7"/>
<text x="443.5" y="365.92" font-size="11">CCRF-CEM</text>
<line x1="426.9" y1="376.25" x2="438.1" y2="376.25" stroke="#5a0c26" stroke-width="1.9"/>
<polygon points="432.5,372.87 435.88,376.25 432.5,379.63 429.12,376.25" fill="#c898a8" stroke="#2a0614" stroke-width="1.7"/>
<text x="443.5" y="380.15" font-size="11">HPB-ALL</text>
<line x1="426.9" y1="390.48" x2="438.1" y2="390.48" stroke="#5a0c26" stroke-width="1.9"/>
<circle cx="432.5" cy="390.48" r="2.79" fill="#c898a8" stroke="#2a0614" stroke-width="1.7"/>
<text x="443.5" y="394.38" font-size="11">ALLSIL</text>
<line x1="426.9" y1="404.71" x2="438.1" y2="404.71" stroke="#5a0c26" stroke-width="1.9"/>
<polygon points="432.5,407.59 435.52,402.55 429.48,402.55" fill="#2a0614" stroke="#2a0614" stroke-width="1"/>
<text x="443.5" y="408.61" font-size="11">MOLT4</text>
<line x1="426.9" y1="418.94" x2="438.1" y2="418.94" stroke="#5a0c26" stroke-width="1.9"/>
<polygon points="432.5,416.07 435.52,421.1 429.48,421.1" fill="#2a0614" stroke="#2a0614" stroke-width="1"/>
<text x="443.5" y="422.84" font-size="11">JURKAT</text>
<rect x="1" y="1" width="518" height="515" fill="none" stroke="#000" stroke-width="2"/>
</svg></body></html>
